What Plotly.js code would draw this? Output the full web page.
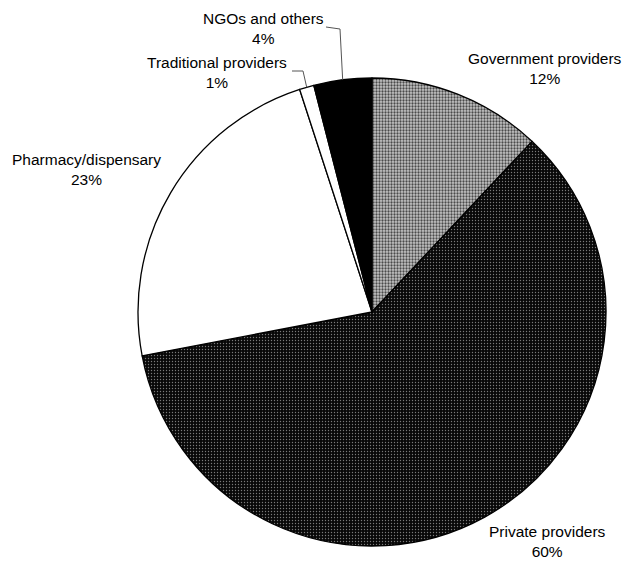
<!DOCTYPE html>
<html>
<head>
<meta charset="utf-8">
<script src="https://cdn.plot.ly/plotly-3.0.1.min.js"></script>
<style>
  html, body { margin: 0; padding: 0; background: #ffffff; }
  #chart { width: 623px; height: 563px; }
</style>
</head>
<body>
<div id="chart"></div>
<script>
// Source of treatment, share of cases (%), drawn clockwise from 12 o'clock
const categories = ['Government providers', 'Private providers', 'Pharmacy/dispensary', 'Traditional providers', 'NGOs and others'];
const shares = [12, 60, 23, 1, 4];

// Slice fills (halftone-style dotted greys for the provider slices)
const fillColors = ['#b4b4b4', '#0a0a0a', '#ffffff', '#ffffff', '#000000'];
const patternShapes = ['.', '.', '', '', ''];
const patternFg = ['#4a4a4a', '#7a7a7a', '#000000', '#000000', '#000000'];
const patternBg = ['#c6c6c6', '#080808', '#ffffff', '#ffffff', '#000000'];
const patternSolidity = [0.45, 0.17, 0, 0, 0];

// Label anchor points in pixels, and which slices get a leader line
const labelPx = [[545, 68], [547, 541], [86, 170], [217, 72], [263, 28]];
const leaderFrom = [null, null, null, [[292, 71], [303, 71]], [[326, 27], [340, 29]]];

const W = 623, H = 563;
const cx = 372, cy = 312, R = 234;

const total = shares.reduce((a, b) => a + b, 0);
const px2paper = (p) => [p[0] / W, 1 - p[1] / H];

// Point on the rim at the middle of slice i (clockwise from the top)
function rimMid(i) {
  let before = 0;
  for (let k = 0; k < i; k++) before += shares[k];
  const frac = (before + shares[i] / 2) / total;
  const a = frac * 2 * Math.PI;
  return [cx + R * Math.sin(a), cy - R * Math.cos(a)];
}

const annotations = categories.map((c, i) => {
  const p = px2paper(labelPx[i]);
  return {
    x: p[0], y: p[1], xref: 'paper', yref: 'paper',
    text: c + '<br>' + shares[i] + '%',
    showarrow: false, xanchor: 'center', yanchor: 'middle', align: 'center',
    font: { family: 'Liberation Sans, Arial, sans-serif', size: 15.5, color: '#000000' }
  };
});

const shapes = [];
leaderFrom.forEach((pts, i) => {
  if (!pts) return;
  const path = pts.concat([rimMid(i)]).map((p, k) => {
    const q = px2paper(p);
    return (k === 0 ? 'M' : 'L') + q[0] + ',' + q[1];
  }).join(' ');
  shapes.push({
    type: 'path', xref: 'paper', yref: 'paper', path: path,
    line: { color: '#555555', width: 1 }
  });
});

const trace = {
  type: 'pie',
  labels: categories,
  values: shares,
  sort: false,
  direction: 'clockwise',
  rotation: 0,
  textinfo: 'none',
  hoverinfo: 'none',
  showlegend: false,
  domain: { x: [(cx - R) / W, (cx + R) / W], y: [(H - cy - R) / H, (H - cy + R) / H] },
  marker: {
    colors: fillColors,
    line: { color: '#000000', width: 1.3 },
    pattern: { shape: patternShapes, fgcolor: patternFg, bgcolor: patternBg, size: 3, solidity: patternSolidity }
  }
};

const layout = {
  width: W, height: H,
  margin: { l: 0, r: 0, t: 0, b: 0 },
  paper_bgcolor: '#ffffff',
  annotations: annotations,
  shapes: shapes
};

Plotly.newPlot('chart', [trace], layout, { displayModeBar: false, staticPlot: true });
</script>
</body>
</html>
